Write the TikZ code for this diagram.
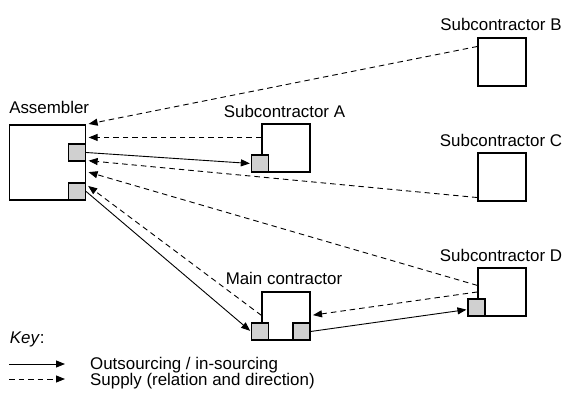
\documentclass[tikz,border=0pt]{standalone}
\usepackage{fontspec}
\setmainfont{Liberation Sans}
\usetikzlibrary{arrows.meta}
\definecolor{portgray}{RGB}{208,208,208}
\begin{document}
\begin{tikzpicture}[x=1pt,y=-1pt,
  txt/.style={inner sep=0pt,font=\fontsize{16.9pt}{20pt}\selectfont},
  box/.style={draw,line width=1.1pt,fill=white,inner sep=0pt,minimum width=48pt,minimum height=48pt},
  port/.style={draw,line width=1.1pt,fill=portgray,inner sep=0pt,minimum width=17pt,minimum height=17pt},
  tip/.style={-{Triangle[length=9pt,width=7pt,fill=black]}},
  supply/.style={tip,line width=0.9pt,dash pattern=on 5.5pt off 4pt,shorten >=2.5pt},
  outsrc/.style={tip,line width=0.9pt,shorten >=1pt}]
\useasboundingbox (0,0) rectangle (563,394);
% boxes
\node[box,minimum width=76pt,minimum height=75pt] (asm) at (47.6,162.5) {};
\node[port] (asmP1) at (77.1,152.5) {};
\node[port] (asmP2) at (77.1,191.5) {};
\node[box] (subA) at (286,148) {};
\node[port] (subAP) at (259.9,163.5) {};
\node[box] (subB) at (502,62) {};
\node[box] (subC) at (502,177) {};
\node[box] (subD) at (502,292) {};
\node[port] (subDP) at (476.5,307.5) {};
\node[box] (main) at (286,316) {};
\node[port] (mainPL) at (260,331.5) {};
\node[port] (mainPR) at (301.5,331.5) {};
% labels
\node[txt,anchor=base west] (lAsm) at ([yshift=11pt]asm.north west) {Assembler};
\node[txt,anchor=base] (lA) at ([xshift=-1.5pt,yshift=6pt]subA.north) {Subcontractor A};
\node[txt,anchor=base] (lB) at ([xshift=-1pt,yshift=6.5pt]subB.north) {Subcontractor B};
\node[txt,anchor=base] (lC) at ([xshift=-1pt,yshift=6pt]subC.north) {Subcontractor C};
\node[txt,anchor=base] (lD) at ([xshift=-1pt,yshift=6pt]subD.north) {Subcontractor D};
\node[txt,anchor=base] (lMain) at ([xshift=-2pt,yshift=7pt]main.north) {Main contractor};
% connectors
\draw[supply] ([yshift=-9pt]subB.north west) -- (asm.north east);
\draw[supply] ([yshift=-14pt]subA.north west) -- ([yshift=-13pt]asm.north east);
\draw[outsrc] (asmP1.east) -- (subAP.west);
\draw[supply] ([yshift=4pt]subC.south west) -- ([yshift=-36pt]asm.north east);
\draw[supply] ([yshift=-18pt]subD.north west) -- ([yshift=-47pt]asm.north east);
\draw[supply] ([yshift=-24pt]main.north west) -- ([yshift=-60pt]asm.north east);
\draw[outsrc] (asmP2.east) -- (mainPL.west);
\draw[supply] ([yshift=-24.5pt]subD.north west) -- ([yshift=-24pt]main.north east);
\draw[outsrc] (mainPR.east) -- ([yshift=-2pt]subDP.west);
% key
\node[txt,anchor=base west] (key) at (9.7,343) {\textit{Key}:};
\coordinate (k1a) at (9,364);
\coordinate (k1b) at (65,364);
\coordinate (k2a) at (9,379);
\coordinate (k2b) at (65,379);
\draw[tip,line width=0.9pt] (k1a) -- (k1b);
\draw[tip,line width=0.9pt,dash pattern=on 5.5pt off 4pt] (k2a) -- (k2b);
\node[txt,anchor=base west] (key1) at (90,369.5) {Outsourcing / in-sourcing};
\node[txt,anchor=base west] (key2) at (90,385.5) {Supply (relation and direction)};
\end{tikzpicture}
\end{document}
